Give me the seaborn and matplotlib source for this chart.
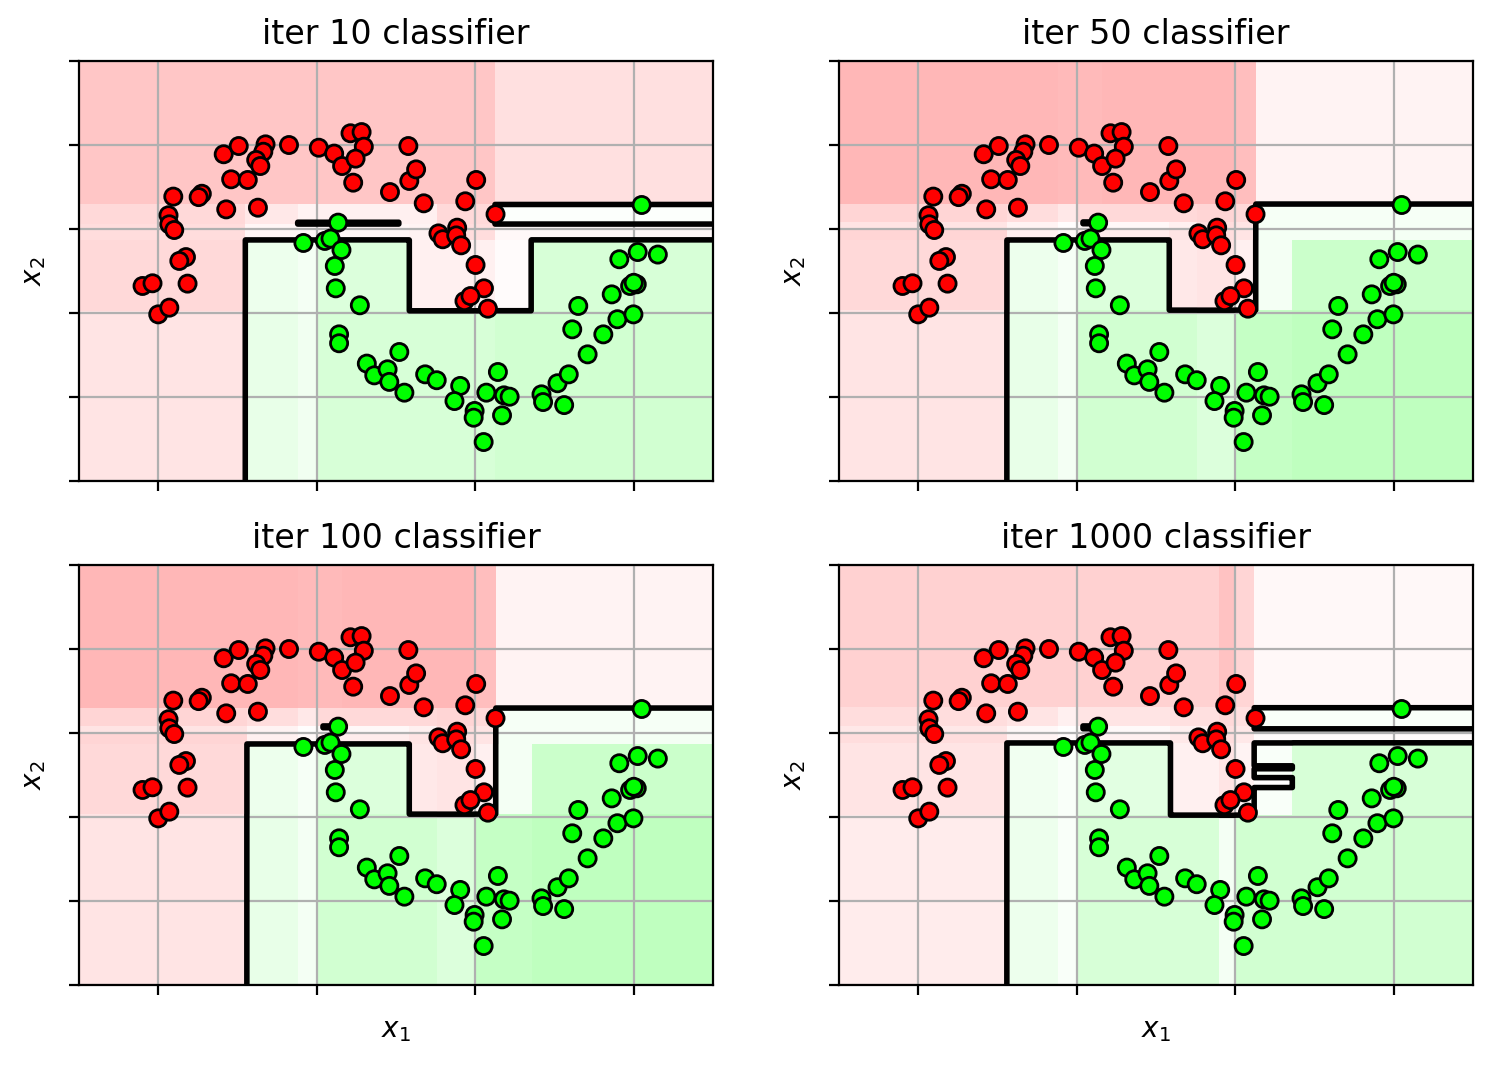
import numpy as np
import pandas as pd
import matplotlib
matplotlib.use("Agg")
import matplotlib.pyplot as plt
from matplotlib.colors import LinearSegmentedColormap
import seaborn as sns


# moons data
red_x1 = [-0.587, -0.492, -0.323, -0.337, -0.382, -0.356, -0.175, 0.013, 0.110, 0.160,
          0.213, 0.283, 0.297, 0.245, 0.230, 0.462, 0.578, 0.584, 0.627, -0.540,
          -0.435, -0.725, -0.745, -0.905, -0.571, -0.371, -0.935, -0.930, -0.899, -0.825,
          -0.867, -0.815, -1.099, -1.036, -1.000, -0.930, 0.675, 0.937, 1.006, 1.128,
          0.768, 0.795, 0.886, 0.880, 0.911, 1.002, 1.055, 0.932, 0.970, 1.080]
red_x2 = [0.945, 0.994, 1.004, 0.960, 0.911, 0.875, 1.000, 0.984, 0.949, 0.875,
          1.070, 1.077, 0.990, 0.919, 0.776, 0.720, 0.994, 0.786, 0.855, 0.796,
          0.792, 0.710, 0.690, 0.693, 0.617, 0.627, 0.582, 0.528, 0.494, 0.333,
          0.310, 0.175, 0.161, 0.177, -0.008, 0.032, 0.653, 0.665, 0.792, 0.588,
          0.474, 0.439, 0.508, 0.462, 0.403, 0.286, 0.147, 0.071, 0.101, 0.026]

green_x1 = [0.135, -0.084, 0.051, 0.087, 0.156, 0.114, 0.120, 0.272, 0.141, 0.141,
            0.316, 0.363, 0.447, 0.458, 0.521, 0.553, 0.684, 0.757, 0.905, 0.869,
            0.996, 0.990, 1.053, 1.143, 1.070, 1.181, 1.217, 1.169, 1.418, 1.428,
            1.519, 1.590, 1.561, 1.709, 1.612, 1.650, 1.808, 1.861, 1.897, 1.998,
            1.977, 2.019, 2.000, 1.909, 2.025, 2.152, 2.050]
green_x2 = [0.538, 0.417, 0.429, 0.443, 0.375, 0.280, 0.147, 0.046, -0.127, -0.180,
            -0.301, -0.371, -0.335, -0.410, -0.232, -0.474, -0.365, -0.400, -0.434, -0.524,
            -0.583, -0.623, -0.768, -0.351, -0.474, -0.490, -0.498, -0.609, -0.484, -0.530,
            -0.418, -0.365, -0.548, -0.246, -0.097, 0.042, -0.127, 0.111, -0.037, -0.008,
            0.161, 0.171, 0.180, 0.320, 0.363, 0.348, 0.643]

# classifier score on a piecewise-constant grid (rows go bottom -> top)
x_edges_10 = [-1.5, -0.45, -0.12, 0.0, 0.52, 0.585, 0.76, 1.125, 1.355, 2.5]
y_edges_10 = [-1.0, 0.014, 0.435, 0.53, 0.542, 0.647, 1.5]
z_10 = [
    [-0.35, 0.20, 0.12, 0.35, 0.35, 0.35, 0.35, 0.40, 0.40],
    [-0.50, 0.15, 0.10, 0.30, 0.30, -0.20, -0.20, -0.05, 0.35],
    [-0.45, -0.12, -0.10, -0.12, -0.12, -0.15, -0.45, -0.10, -0.10],
    [-0.50, -0.30, 0.03, 0.03, -0.20, -0.20, -0.50, 0.03, 0.03],
    [-0.50, -0.30, -0.15, -0.20, -0.20, -0.20, -0.50, 0.03, 0.03],
    [-0.75, -0.75, -0.75, -0.75, -0.75, -0.75, -0.75, -0.40, -0.40],
]

x_edges_50 = [-1.5, -0.44, -0.12, 0.0, 0.04, 0.16, 0.585, 0.76, 1.0, 1.13, 1.355, 2.5]
y_edges_50 = [-1.0, 0.018, 0.435, 0.494, 0.532, 0.544, 0.649, 1.5]
z_50 = [
    [-0.35, 0.20, 0.10, 0.40, 0.40, 0.40, 0.40, 0.30, 0.50, 0.50, 0.55],
    [-0.50, 0.15, 0.08, 0.30, 0.30, 0.30, -0.30, -0.35, -0.20, 0.10, 0.45],
    [-0.55, -0.20, -0.10, -0.25, -0.25, -0.25, -0.35, -0.45, -0.35, 0.10, 0.10],
    [-0.35, -0.15, -0.03, -0.10, -0.10, -0.10, -0.20, -0.45, -0.35, 0.08, 0.08],
    [-0.35, -0.15, -0.03, -0.10, 0.03, -0.10, -0.20, -0.45, -0.35, 0.08, 0.08],
    [-0.55, -0.45, -0.30, -0.50, -0.50, -0.50, -0.50, -0.55, -0.50, 0.08, 0.08],
    [-0.95, -0.95, -0.90, -0.90, -0.90, -0.95, -0.95, -0.95, -0.85, -0.15, -0.15],
]

x_edges_100 = x_edges_50
y_edges_100 = y_edges_50
z_100 = z_50

x_edges_1000 = [-1.5, -0.44, -0.12, 0.0, 0.04, 0.16, 0.59, 0.9, 1.0, 1.12, 1.36, 2.5]
y_edges_1000 = [-1.0, 0.012, 0.175, 0.236, 0.287, 0.305, 0.44, 0.494, 0.526, 0.544, 0.652, 1.5]
z_1000 = [
    [-0.25, 0.15, 0.05, 0.35, 0.35, 0.35, 0.35, 0.10, 0.40, 0.40, 0.40],
    [-0.35, 0.12, 0.05, 0.25, 0.25, 0.25, -0.20, -0.35, -0.15, 0.05, 0.35],
    [-0.35, 0.12, 0.05, 0.25, 0.25, 0.25, -0.20, -0.35, -0.15, -0.02, 0.35],
    [-0.35, 0.12, 0.05, 0.25, 0.25, 0.25, -0.20, -0.35, -0.15, 0.05, 0.35],
    [-0.35, 0.12, 0.05, 0.25, 0.25, 0.25, -0.20, -0.35, -0.15, -0.03, 0.35],
    [-0.35, 0.12, 0.05, 0.25, 0.25, 0.25, -0.20, -0.35, -0.15, 0.05, 0.35],
    [-0.45, -0.15, -0.05, -0.20, -0.20, -0.20, -0.30, -0.45, -0.30, -0.05, -0.05],
    [-0.30, -0.10, -0.02, -0.08, -0.08, -0.08, -0.20, -0.40, -0.30, -0.05, -0.05],
    [-0.30, -0.10, -0.02, -0.08, 0.03, -0.08, -0.20, -0.40, -0.30, 0.05, 0.05],
    [-0.45, -0.35, -0.20, -0.35, -0.35, -0.35, -0.40, -0.50, -0.40, 0.05, 0.05],
    [-0.60, -0.60, -0.60, -0.60, -0.60, -0.60, -0.60, -0.80, -0.55, -0.10, -0.10],
]

titles = ["iter 10 classifier", "iter 50 classifier", "iter 100 classifier", "iter 1000 classifier"]
panels = [
    (x_edges_10, y_edges_10, z_10),
    (x_edges_50, y_edges_50, z_50),
    (x_edges_100, y_edges_100, z_100),
    (x_edges_1000, y_edges_1000, z_1000),
]

points = pd.DataFrame({
    "x1": red_x1 + green_x1,
    "x2": red_x2 + green_x2,
    "label": ["red"] * len(red_x1) + ["green"] * len(green_x1),
})

cmap = LinearSegmentedColormap.from_list("red_white_green", ["#ffb3b3", "#ffffff", "#8cff8c"])

# fine sampling for the zero contour
xs = np.linspace(-1.5, 2.5, 1601)
ys = np.linspace(-1.0, 1.5, 1251)

fig, axes = plt.subplots(2, 2, figsize=(7.465, 5.325), dpi=200)
fig.subplots_adjust(left=0.0529, right=0.9866, bottom=0.0751, top=0.9427, wspace=0.1987, hspace=0.2)

for i, (ax, title, (xe, ye, z)) in enumerate(zip(axes.flat, titles, panels)):
    xe = np.array(xe)
    ye = np.array(ye)
    z = np.array(z)
    ax.pcolormesh(xe, ye, z, cmap=cmap, vmin=-1, vmax=1, zorder=0)

    ix = np.clip(np.searchsorted(xe, xs, side="right") - 1, 0, len(xe) - 2)
    iy = np.clip(np.searchsorted(ye, ys, side="right") - 1, 0, len(ye) - 2)
    ax.contour(xs, ys, z[np.ix_(iy, ix)], levels=[0], colors="k", linewidths=2, zorder=2)

    sns.scatterplot(data=points, x="x1", y="x2", hue="label",
                    palette={"red": "#ff0000", "green": "#00ff00"},
                    s=38, edgecolor="k", linewidth=1, legend=False, ax=ax, zorder=3)

    ax.set_xlim(-1.5, 2.5)
    ax.set_ylim(-1.0, 1.5)
    ax.set_xticks([-1, 0, 1, 2])
    ax.set_yticks([-1, -0.5, 0, 0.5, 1, 1.5])
    ax.set_xticklabels([])
    ax.set_yticklabels([])
    ax.grid(True)
    ax.set_title(title)
    ax.set_ylabel("$x_2$")
    ax.set_xlabel("$x_1$" if i >= 2 else "")

fig.savefig("out.png", dpi=200)
